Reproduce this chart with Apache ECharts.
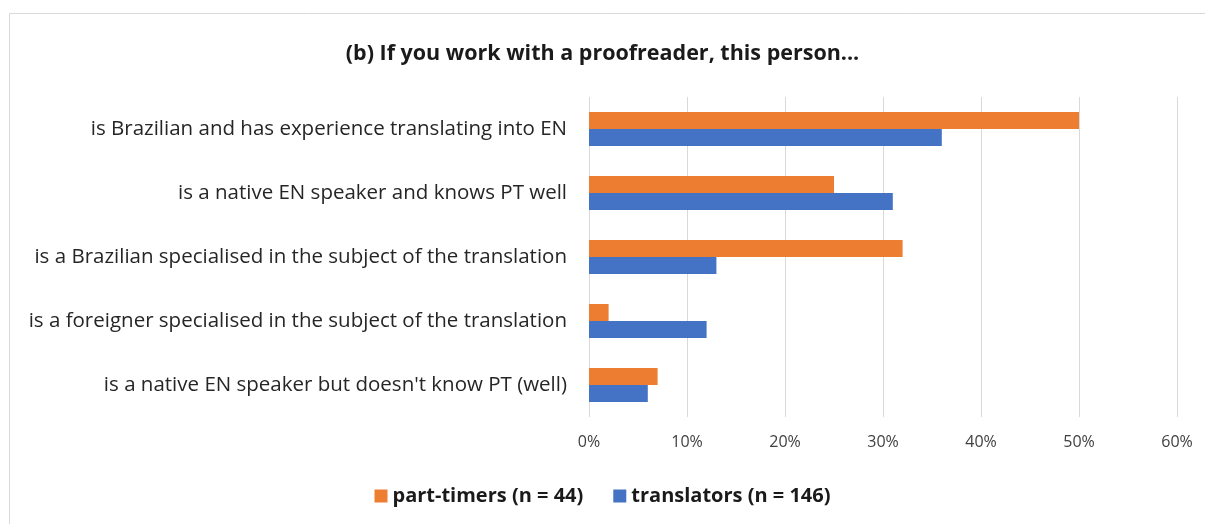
<!DOCTYPE html>
<html>
<head>
<meta charset="utf-8">
<script src="https://cdn.jsdelivr.net/npm/echarts@6/dist/echarts.min.js"></script>
<style>
  html, body { margin: 0; padding: 0; background: #fff; }
  #chart { width: 1205px; height: 524px; }
</style>
</head>
<body>
<div id="chart"></div>
<script>
// categories, top to bottom
const categories = [
  'is Brazilian and has experience translating into EN',
  'is a native EN speaker and knows PT well',
  'is a Brazilian specialised in the subject of the translation',
  'is a foreigner specialised in the subject of the translation',
  "is a native EN speaker but doesn't know PT (well)"
];
const partTimers = [50, 25, 32, 2, 7];
const translators = [36, 31, 13, 12, 6];
const seriesNames = ['part-timers (n = 44)', 'translators (n = 146)'];

const font = '"Open Sans", Lato, sans-serif';

const chart = echarts.init(document.getElementById('chart'));
chart.setOption({
  animation: false,
  textStyle: { fontFamily: font },
  title: {
    text: '(b) If you work with a proofreader, this person...',
    left: 'center',
    top: 38,
    textStyle: { fontFamily: font, fontSize: 21.5, fontWeight: 'bold', color: '#1a1a1a' }
  },
  graphic: [{
    type: 'rect',
    shape: { x: 9.5, y: 13.5, width: 1220, height: 540 },
    style: { fill: 'none', stroke: '#d9d9d9', lineWidth: 1 },
    silent: true
  }],
  legend: {
    bottom: 13,
    left: 'center',
    itemWidth: 13,
    itemHeight: 13,
    itemGap: 30,
    icon: 'rect',
    textStyle: { fontFamily: font, fontSize: 20, fontWeight: 'bold', color: '#1a1a1a' },
    data: seriesNames
  },
  grid: { left: 589, right: 28, top: 97, bottom: 107 },
  xAxis: {
    type: 'value',
    min: 0,
    max: 60,
    interval: 10,
    axisLine: { show: false },
    axisTick: { show: false },
    splitLine: { lineStyle: { color: '#d9d9d9' } },
    axisLabel: { formatter: '{value}%', fontSize: 16, color: '#404040', margin: 17 }
  },
  yAxis: {
    type: 'category',
    inverse: true,
    data: categories,
    axisLine: { show: false },
    axisTick: { show: false },
    axisLabel: { fontSize: 20.5, color: '#262626', margin: 22 }
  },
  series: [
    {
      name: seriesNames[0],
      type: 'bar',
      data: partTimers,
      barWidth: 17,
      barGap: '0%',
      itemStyle: { color: '#ed7d31' }
    },
    {
      name: seriesNames[1],
      type: 'bar',
      data: translators,
      barWidth: 17,
      itemStyle: { color: '#4472c4' }
    }
  ]
});
</script>
</body>
</html>
